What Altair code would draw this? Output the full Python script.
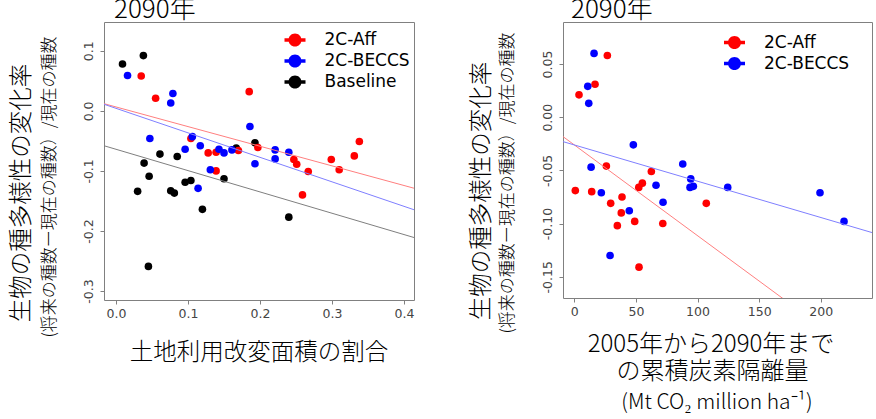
import altair as alt
import pandas as pd

FONT_JP = "Noto Sans CJK JP"
FONT_LAT = "DejaVu Sans"

SERIES = ["2C-Aff", "2C-BECCS", "Baseline"]
POINT_COLORS = ["#ff0000", "#0000ff", "#000000"]
FIT_COLORS = ["#ff7f7f", "#7f7fff", "#7f7f7f"]

# Legend glyph: filled dot with a short bar through it
LEGEND_SYMBOL = (
    "M-1,-0.16L1,-0.16L1,0.16L-1,0.16Z "
    "M0.62,0A0.62,0.62,0,1,1,-0.62,0A0.62,0.62,0,1,1,0.62,0Z"
)

# ---- Left panel: share of land-use change vs. change rate of species richness
luc_base_x = [0.009, 0.038, 0.061, 0.039, 0.046, 0.030, 0.085, 0.076, 0.081,
              0.096, 0.104, 0.150, 0.120, 0.193, 0.167, 0.240, 0.045]
luc_base_y = [0.078, 0.092, -0.072, -0.087, -0.109, -0.134, -0.076, -0.133, -0.137,
              -0.119, -0.116, -0.113, -0.164, -0.053, -0.062, -0.177, -0.259]
luc_aff_x = [0.035, 0.055, 0.185, 0.104, 0.128, 0.139, 0.139, 0.170, 0.197,
             0.247, 0.251, 0.267, 0.259, 0.299, 0.310, 0.331, 0.338]
luc_aff_y = [0.058, 0.021, 0.032, -0.046, -0.070, -0.069, -0.100, -0.066, -0.061,
             -0.081, -0.089, -0.101, -0.140, -0.081, -0.098, -0.075, -0.051]
luc_beccs_x = [0.016, 0.079, 0.076, 0.047, 0.106, 0.096, 0.117, 0.131, 0.143,
               0.150, 0.161, 0.186, 0.193, 0.221, 0.221, 0.240, 0.114]
luc_beccs_y = [0.059, 0.029, 0.013, -0.046, -0.043, -0.064, -0.058, -0.098, -0.064,
               -0.070, -0.065, -0.026, -0.088, -0.065, -0.080, -0.069, -0.129]

# linear fits (intercept, slope) per series
luc_fit_intercept = [0.0065, 0.0042, -0.064]
luc_fit_slope = [-0.327, -0.408, -0.355]

luc_x_domain = [-0.0167, 0.4139]
luc_y_domain = [-0.315, 0.148]
luc_x_ticks = [0.0, 0.1, 0.2, 0.3, 0.4]
luc_y_ticks = [-0.3, -0.2, -0.1, 0.0, 0.1]

# ---- Right panel: cumulative carbon sequestration 2005-2090
seq_aff_x = [26.8, 16.8, 3.8, 26.0, 62.5, 55.2, 52.3, 0.8, 14.1,
             38.7, 29.5, 107.1, 38.1, 34.9, 49.0, 71.8, 52.5]
seq_aff_y = [0.058, 0.031, 0.021, -0.046, -0.051, -0.062, -0.066, -0.069, -0.070,
             -0.075, -0.081, -0.081, -0.090, -0.102, -0.098, -0.100, -0.141]
seq_beccs_x = [16.0, 10.9, 11.7, 47.9, 13.6, 21.9, 66.3, 72.0, 88.0,
               94.5, 93.9, 96.6, 124.5, 199.4, 218.9, 44.6, 29.0]
seq_beccs_y = [0.060, 0.029, 0.013, -0.026, -0.047, -0.071, -0.064, -0.080, -0.044,
               -0.058, -0.066, -0.065, -0.066, -0.071, -0.098, -0.088, -0.130]

seq_fit_intercept = [-0.0261, -0.0261]
seq_fit_slope = [-0.000853, -0.000341]

seq_x_domain = [-9.2, 241.6]
seq_y_domain = [-0.170, 0.0895]
seq_x_ticks = [0, 50, 100, 150, 200]
seq_y_ticks = [-0.15, -0.10, -0.05, 0.00, 0.05]


def points_frame(groups):
    rows = []
    for name, xs, ys in groups:
        for x, y in zip(xs, ys):
            rows.append({"series": name, "x": x, "y": y})
    df = pd.DataFrame(rows)
    df["draw"] = range(len(df))
    return df


def fit_frame(names, intercepts, slopes, x_domain):
    rows = []
    for name, a, b in zip(names, intercepts, slopes):
        for x in x_domain:
            rows.append({"series": name, "x": x, "y": a + b * x})
    return pd.DataFrame(rows)


def label(text, x, y, size, font=FONT_JP, angle=0, align="center",
          baseline="middle", weight=300):
    return alt.Chart(pd.DataFrame({"t": [text]})).mark_text(
        font=font, fontSize=size, fontWeight=weight, angle=angle, align=align,
        baseline=baseline, color="#000000",
    ).encode(text="t:N", x=alt.value(x), y=alt.value(y))


def tick_expr(fmt):
    return "replace(format(datum.value, '" + fmt + "'), '\u2212', '-')"


def panel(pts, fits, names, x_domain, y_domain, x_ticks, y_ticks, x_fmt, y_fmt,
          width, height, legend_x, legend_y, texts):
    n = len(names)
    xs = alt.Scale(domain=x_domain, nice=False, zero=False)
    ys = alt.Scale(domain=y_domain, nice=False, zero=False)
    x_axis = alt.Axis(values=x_ticks, labelExpr=tick_expr(x_fmt), title=None,
                      labelPadding=3, labelFlush=False)
    y_axis = alt.Axis(values=y_ticks, labelExpr=tick_expr(y_fmt), title=None,
                      labelAngle=270, labelAlign="center", labelBaseline="bottom",
                      labelPadding=5, labelFlush=False)
    dots = alt.Chart(pts).mark_circle(size=58, opacity=1).encode(
        x=alt.X("x:Q", scale=xs, axis=x_axis),
        y=alt.Y("y:Q", scale=ys, axis=y_axis),
        color=alt.Color(
            "series:N", title=None,
            scale=alt.Scale(domain=names, range=POINT_COLORS[:n]),
            legend=alt.Legend(
                orient="none", legendX=legend_x, legendY=legend_y,
                symbolType=LEGEND_SYMBOL, symbolSize=441, symbolStrokeWidth=0,
                symbolOpacity=1, labelFont=FONT_LAT, labelFontSize=17,
                labelColor="#000000", labelOffset=19, rowPadding=2, padding=0,
            ),
        ),
        order=alt.Order("draw:Q"),
    )
    lines = alt.Chart(fits).mark_line(clip=True, strokeWidth=1).encode(
        x=alt.X("x:Q", scale=xs, axis=x_axis),
        y=alt.Y("y:Q", scale=ys, axis=y_axis),
        detail="series:N",
        stroke=alt.Stroke("series:N", scale=alt.Scale(domain=names, range=FIT_COLORS[:n]),
                          legend=None),
    )
    return alt.layer(dots, lines, *texts).properties(width=width, height=height)


left = panel(
    points_frame([("Baseline", luc_base_x, luc_base_y),
                  ("2C-Aff", luc_aff_x, luc_aff_y),
                  ("2C-BECCS", luc_beccs_x, luc_beccs_y)]),
    fit_frame(SERIES, luc_fit_intercept, luc_fit_slope, luc_x_domain),
    SERIES, luc_x_domain, luc_y_domain, luc_x_ticks, luc_y_ticks, ".1f", ".1f",
    310, 278, 180.5, 7.5,
    [
        label("2090年", 10, -4, 26, align="left", baseline="alphabetic"),
        label("生物の種多様性の変化率", -82, 171, 23.5, angle=270),
        label("(将来の種数ー現在の種数）/現在の種数", -54, 165, 17, angle=270),
        label("土地利用改変面積の割合", 155, 331, 23.5),
    ],
)

right = panel(
    points_frame([("2C-Aff", seq_aff_x, seq_aff_y),
                  ("2C-BECCS", seq_beccs_x, seq_beccs_y)]),
    fit_frame(SERIES[:2], seq_fit_intercept, seq_fit_slope, seq_x_domain),
    SERIES[:2], seq_x_domain, seq_y_domain, seq_x_ticks, seq_y_ticks, "d", ".2f",
    309, 276, 161, 10,
    [
        label("2090年", 8, -4, 26, align="left", baseline="alphabetic"),
        label("生物の種多様性の変化率", -81, 169, 23.5, angle=270),
        label("(将来の種数ー現在の種数）/現在の種数", -55, 161, 17, angle=270),
        label("2005年から2090年まで", 148, 323, 24),
        label("の累積炭素隔離量", 149.5, 350, 24),
        label("(Mt CO₂ million ha⁻¹)", 154, 381, 21),
    ],
)

chart = (
    alt.hconcat(left, right, spacing=149, bounds="flush")
    .resolve_scale(color="independent", stroke="independent")
    .resolve_legend(color="independent")
    .properties(
        padding={"left": 104, "top": 22, "right": 772, "bottom": 397},
        autosize=alt.AutoSizeParams(type="none"),
        background="#ffffff",
    )
    .configure_view(stroke="#808080", strokeWidth=1)
    .configure_axis(
        grid=False, domain=False, tickColor="#808080", tickSize=4, tickWidth=1,
        labelFont=FONT_LAT, labelFontSize=12.5, labelColor="#444444",
    )
)

chart.save("out.html", embed_options={"renderer": "svg", "actions": False})
